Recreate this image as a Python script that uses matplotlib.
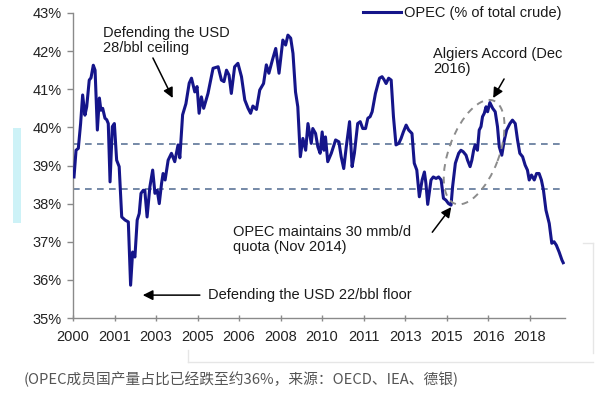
import matplotlib
matplotlib.use("Agg")
import matplotlib.pyplot as plt
from matplotlib.patches import Ellipse, Rectangle
from matplotlib.lines import Line2D

# ---------------- data ----------------
years = [2000.04, 2000.12, 2000.21, 2000.30, 2000.38, 2000.47, 2000.54, 2000.64, 2000.71, 2000.80,
         2000.87, 2000.96, 2001.04, 2001.10, 2001.17, 2001.26, 2001.33, 2001.39, 2001.46, 2001.55,
         2001.63, 2001.72, 2001.82, 2001.92, 2002.05, 2002.18, 2002.27, 2002.35, 2002.44, 2002.53,
         2002.61, 2002.68, 2002.77, 2002.83, 2002.92, 2003.03, 2003.14, 2003.23, 2003.32, 2003.40,
         2003.49, 2003.55, 2003.63, 2003.75, 2003.88, 2004.01, 2004.14, 2004.21, 2004.32, 2004.45,
         2004.58, 2004.67, 2004.80, 2004.89, 2004.97, 2005.06, 2005.15, 2005.32, 2005.52, 2005.72,
         2005.85, 2005.95, 2006.05, 2006.15, 2006.24, 2006.37, 2006.50, 2006.64, 2006.77, 2006.90,
         2007.00, 2007.09, 2007.23, 2007.36, 2007.51, 2007.62, 2007.72, 2007.86, 2007.99, 2008.12,
         2008.27, 2008.38, 2008.47, 2008.58, 2008.67, 2008.77, 2008.86, 2008.96, 2009.06, 2009.17,
         2009.26, 2009.39, 2009.45, 2009.56, 2009.65, 2009.74, 2009.82, 2009.89, 2009.95, 2010.04,
         2010.18, 2010.35, 2010.48, 2010.57, 2010.67, 2010.77, 2010.90, 2011.00, 2011.09, 2011.22,
         2011.32, 2011.42, 2011.53, 2011.62, 2011.71, 2011.79, 2011.92, 2012.08, 2012.18, 2012.26,
         2012.34, 2012.44, 2012.54, 2012.63, 2012.73, 2012.84, 2012.93, 2013.02, 2013.13, 2013.23,
         2013.36, 2013.45, 2013.55, 2013.65, 2013.76, 2013.85, 2013.91, 2013.98, 2014.11, 2014.20,
         2014.31, 2014.41, 2014.51, 2014.60, 2014.70, 2014.80, 2014.90, 2014.96, 2015.07, 2015.20,
         2015.29, 2015.38, 2015.49, 2015.55, 2015.65, 2015.72, 2015.79, 2015.85, 2015.94, 2016.01,
         2016.08, 2016.14, 2016.21, 2016.28, 2016.34, 2016.43, 2016.54, 2016.64, 2016.73, 2016.80,
         2016.90, 2017.00, 2017.09, 2017.22, 2017.32, 2017.43, 2017.52, 2017.61, 2017.72, 2017.82,
         2017.91, 2017.98, 2018.07, 2018.18, 2018.27, 2018.37, 2018.46, 2018.54, 2018.64, 2018.77,
         2018.87, 2018.96, 2019.05, 2019.16, 2019.27, 2019.32]
share = [38.70, 39.40, 39.45, 40.10, 40.85, 40.32, 40.54, 41.24, 41.30, 41.63,
         41.50, 39.93, 40.77, 40.45, 40.50, 40.24, 40.20, 40.10, 38.57, 40.02,
         40.10, 39.14, 38.97, 37.65, 37.57, 37.52, 35.86, 36.73, 36.60, 37.57,
         37.74, 38.27, 38.35, 38.35, 37.65, 38.44, 38.88, 38.27, 38.35, 38.00,
         38.53, 38.79, 38.62, 39.14, 39.32, 39.10, 39.54, 39.20, 40.33, 40.62,
         41.16, 41.29, 40.93, 41.07, 40.37, 40.80, 40.50, 40.89, 41.55, 41.59,
         41.24, 41.20, 41.50, 41.37, 40.89, 41.59, 41.68, 41.33, 40.72, 40.50,
         40.37, 40.56, 40.47, 40.98, 41.15, 41.64, 41.42, 41.77, 42.07, 41.42,
         42.29, 42.16, 42.42, 42.34, 41.94, 40.93, 40.54, 39.23, 39.71, 39.40,
         40.10, 39.58, 39.97, 39.84, 39.49, 39.32, 39.88, 39.40, 39.75, 39.10,
         39.32, 39.67, 39.62, 39.23, 38.92, 39.49, 40.15, 38.97, 39.32, 40.10,
         40.15, 39.97, 39.97, 40.24, 40.28, 40.41, 40.89, 41.29, 41.33, 41.25,
         41.15, 41.29, 41.24, 40.28, 39.54, 39.58, 39.71, 39.88, 40.06, 39.93,
         39.84, 39.06, 38.88, 38.18, 38.62, 38.83, 38.53, 37.98, 38.62, 38.70,
         38.66, 38.70, 38.62, 38.14, 38.09, 38.00, 37.96, 38.44, 39.06, 39.32,
         39.40, 39.36, 39.27, 39.14, 38.97, 39.14, 39.40, 39.54, 39.40, 39.93,
         40.02, 40.28, 40.37, 40.54, 40.41, 40.65, 40.50, 40.41, 40.02, 39.49,
         39.27, 39.67, 39.93, 40.10, 40.19, 40.10, 39.67, 39.32, 39.23, 39.01,
         38.88, 38.62, 38.75, 38.62, 38.79, 38.79, 38.62, 38.36, 37.83, 37.48,
         36.96, 37.00, 36.91, 36.73, 36.52, 36.45]

band_levels = [39.56, 38.38]
x_tick_labels = ["2000", "2001", "2003", "2005", "2006", "2008",
                 "2010", "2011", "2013", "2015", "2016", "2018"]
y_ticks = [35, 36, 37, 38, 39, 40, 41, 42, 43]
series_label = "OPEC (% of total crude)"
caption = "(OPEC成员国产量占比已经跌至约36%，来源：OECD、IEA、德银)"

# ---------------- figure ----------------
W, H = 600, 393
fig = plt.figure(figsize=(W / 100, H / 100), dpi=100)
fig.patch.set_facecolor("white")
ax = fig.add_axes([73 / W, 1 - 318 / H, (565 - 73) / W, (318 - 13) / H])
ax.set_facecolor("none")

FONT = "Liberation Sans"
FS = 10.5
TXT = "#1a1a1a"

line, = ax.plot(years, share, color="#15158a", lw=2.2, solid_joinstyle="round",
                label=series_label, zorder=3)
for lvl in band_levels:
    ax.axhline(lvl, color="#5d7598", lw=1.2, dashes=(4, 3.2), zorder=2)

tick_step = 18 / 11
ax.set_xlim(2000, 2000 + 12 * tick_step * 0.9875)
ax.set_ylim(35, 43)
ax.set_xticks([2000 + i * tick_step for i in range(len(x_tick_labels))])
ax.set_xticklabels(x_tick_labels)
ax.set_yticks(y_ticks)
ax.set_yticklabels([f"{v}%" for v in y_ticks])

for s in ["top", "right"]:
    ax.spines[s].set_visible(False)
for s in ["left", "bottom"]:
    ax.spines[s].set_color("#8a8a8a")
    ax.spines[s].set_linewidth(1.0)
ax.tick_params(axis="y", direction="out", length=4, width=1, color="#8a8a8a",
               pad=4, labelsize=FS, labelcolor="#222222")
ax.tick_params(axis="x", direction="inout", length=5, width=1, color="#8a8a8a",
               pad=6, labelsize=FS, labelcolor="#222222")
for lab in ax.get_xticklabels() + ax.get_yticklabels():
    lab.set_fontfamily(FONT)

# legend
leg = ax.legend(handles=[line], loc="center right",
                bbox_to_anchor=(562 / W, 1 - 13 / H), bbox_transform=fig.transFigure,
                frameon=False, handlelength=2.6, handletextpad=0.25,
                borderpad=0, borderaxespad=0,
                prop={"family": FONT, "size": FS})
for t in leg.get_texts():
    t.set_color(TXT)

arrow_kw = dict(arrowstyle="-|>,head_length=0.6,head_width=0.3", color="black",
                lw=1.1, shrinkA=0, shrinkB=0)

# annotation 1
ax.text(2001.18, 42.66, "Defending the USD\n28/bbl ceiling", family=FONT, size=FS,
        color=TXT, va="top", ha="left", linespacing=1.05)
ax.annotate("", xy=(2003.93, 40.77), xytext=(2003.15, 41.82), arrowprops=arrow_kw)

# annotation 2
ax.text(2014.20, 42.10, "Algiers Accord (Dec\n2016)", family=FONT, size=FS,
        color=TXT, va="top", ha="left", linespacing=1.05)
ax.annotate("", xy=(2016.56, 40.77), xytext=(2016.99, 41.27), arrowprops=arrow_kw)

# annotation 3
ax.text(2006.29, 37.44, "OPEC maintains 30 mmb/d\nquota (Nov 2014)", family=FONT, size=FS,
        color=TXT, va="top", ha="left", linespacing=1.05)
ax.annotate("", xy=(2014.91, 37.91), xytext=(2014.16, 37.25), arrowprops=arrow_kw)

# annotation 4
ax.text(2005.31, 35.60, "Defending the USD 22/bbl floor", family=FONT, size=FS,
        color=TXT, va="center", ha="left")
ax.annotate("", xy=(2002.75, 35.60), xytext=(2005.0, 35.60), arrowprops=arrow_kw)

# dashed ellipse around 2014-2016 episode (drawn in pixel space)
fig.canvas.draw()
cx, cy = ax.transData.transform((2015.81, 39.35))
ell = Ellipse((cx, cy), width=110, height=50, angle=69.4, fill=False,
              edgecolor="#8c8c8c", lw=1.4, linestyle=(0, (3.5, 3)),
              transform=None, zorder=4)
fig.add_artist(ell)

# decorative elements from the screenshot
fig.add_artist(Rectangle((13 / W, 1 - 223 / H), 8 / W, 95 / H, transform=fig.transFigure,
                         facecolor="#cdf2f7", edgecolor="none"))
frame_col = "#e6e6e6"
fig.add_artist(Line2D([188 / W, 593 / W], [1 - 362 / H, 1 - 362 / H],
                      transform=fig.transFigure, color=frame_col, lw=1))
fig.add_artist(Line2D([188 / W, 188 / W], [1 - 350 / H, 1 - 362 / H],
                      transform=fig.transFigure, color=frame_col, lw=1))
fig.add_artist(Line2D([593 / W, 593 / W], [1 - 243 / H, 1 - 353 / H],
                      transform=fig.transFigure, color=frame_col, lw=1))
fig.add_artist(Line2D([583 / W, 593 / W], [1 - 243 / H, 1 - 243 / H],
                      transform=fig.transFigure, color=frame_col, lw=1))

# caption
fig.text(24 / W, 1 - 379 / H, caption, family=["Noto Sans CJK SC", "DejaVu Sans"],
         size=10.6, color="#555555", va="center", ha="left")

fig.savefig("out.png", dpi=100, facecolor="white")
